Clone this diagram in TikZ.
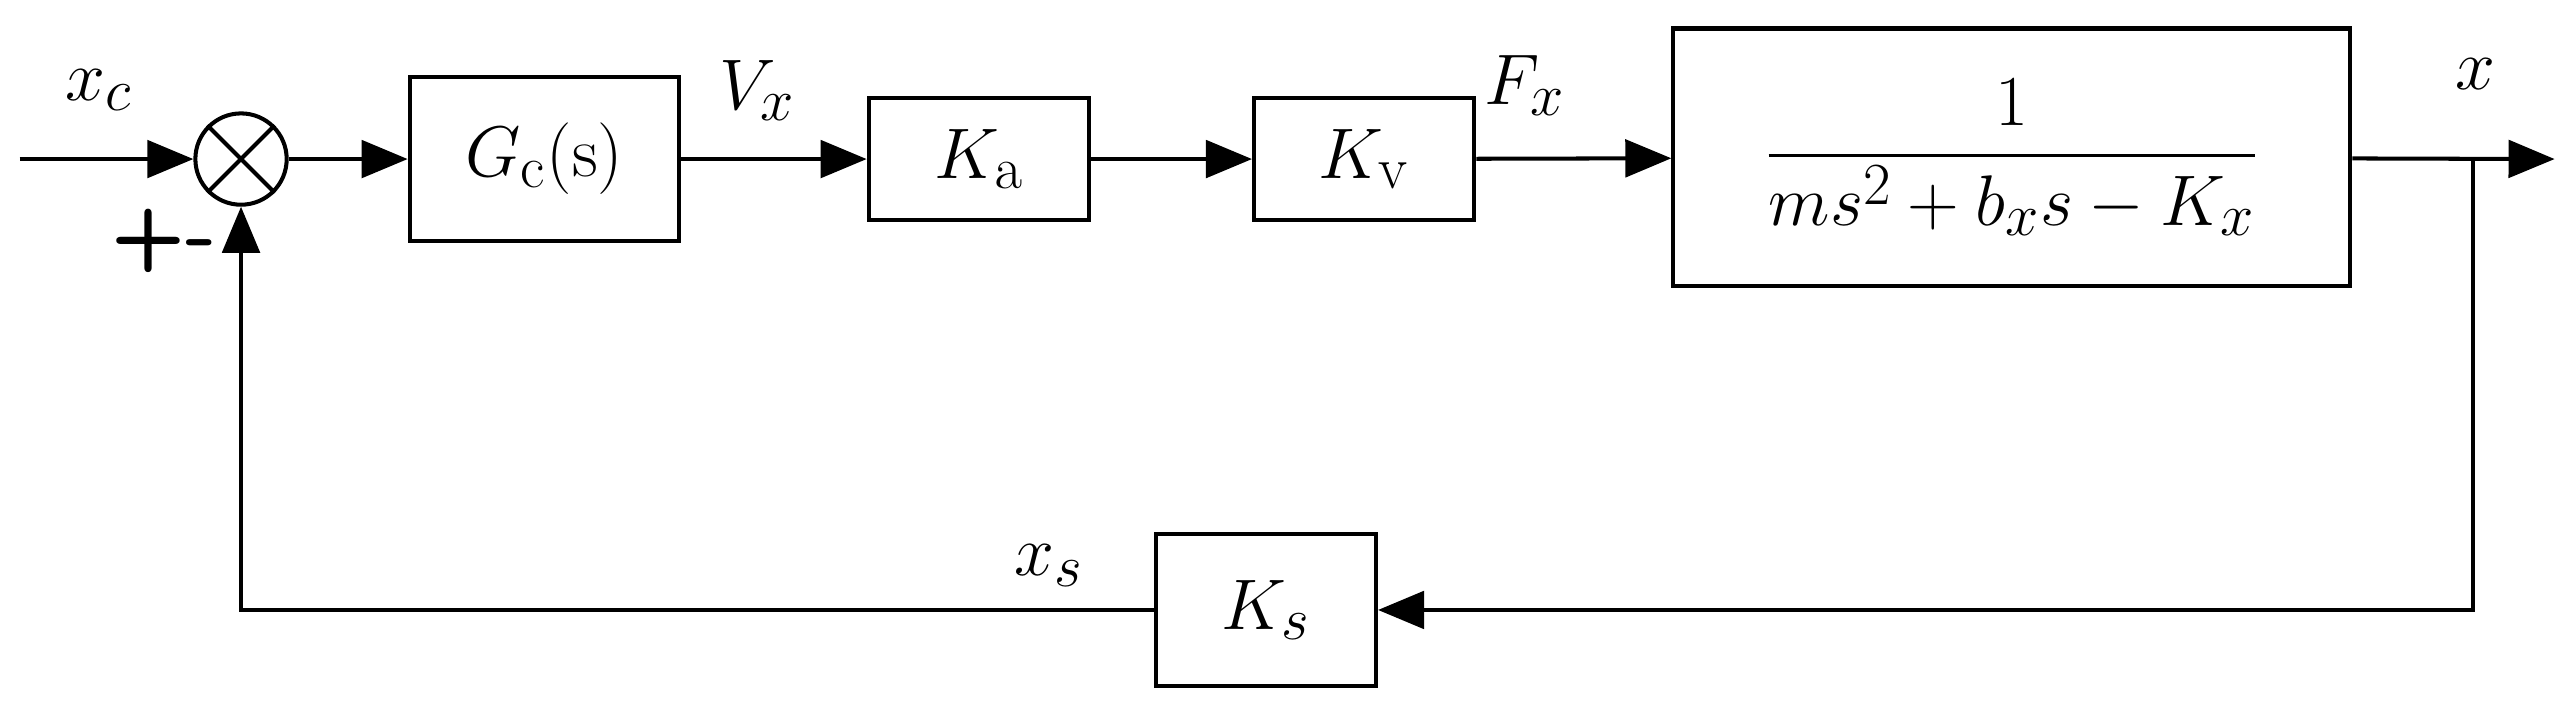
\documentclass[tikz,border=0pt]{standalone}
\usepackage{amsmath}
\usetikzlibrary{arrows.meta}
\begin{document}
\begin{tikzpicture}[x=0.02cm,y=-0.02cm,
  blk/.style={draw,line width=1.4pt,inner sep=0pt},
  con/.style={line width=1.4pt,-{Triangle[length=16pt,width=13pt]}},
  ln/.style={line width=1.4pt},
  every node/.style={font=\fontsize{30}{34}\selectfont}]
\useasboundingbox (0,0) rectangle (1568,438.5);
\coordinate (in) at (12,97);
\node[draw,circle,line width=1.4pt,minimum size=31.7pt,inner sep=0pt] (sum) at (147,97) {};
\draw[ln] (sum.north west) -- (sum.south east) (sum.north east) -- (sum.south west);
\node[blk,minimum width=93.5pt,minimum height=56.7pt] (gc) at (332,97) {$G_{\mathrm{c}}(\mathrm{s})$};
\node[blk,minimum width=76.5pt,minimum height=42.5pt] (ka) at (597,97) {$K_{\mathrm{a}}$};
\node[blk,minimum width=76.5pt,minimum height=42.5pt] (kv) at (832,97) {$K_{\mathrm{v}}$};
\node[blk,minimum width=235pt,minimum height=89.5pt] (g) at (1227,96) {$\dfrac{1}{ms^2+b_x s-K_x}$};
\node[blk,minimum width=76.5pt,minimum height=52.7pt] (ks) at (772,372) {$K_s$};
\coordinate (out) at (1558,97);
\coordinate (br) at (1508,97);
\coordinate (c1) at (1508,372);
\coordinate (c2) at (147,372);
\draw[con] (in) -- (sum);
\draw[con] (sum) -- (gc);
\draw[con] (gc) -- (ka);
\draw[con] (ka) -- (kv);
\draw[con] (kv) -- (g);
\draw[con] (g) -- (out);
\draw[con] (br) -- (c1) -- (ks);
\draw[con] (ks) -- (c2) -- (sum);
\node (xc) at (60,55) {$x_c$};
\node[font=\fontsize{30}{34}\bfseries\sffamily] (pm) at (100,147) {+-};
\node (vx) at (462,55) {$V_x$};
\node (fx) at (930,52) {$F_x$};
\node (xo) at (1510,45) {$x$};
\node (xs) at (640,345) {$x_s$};
\end{tikzpicture}
\end{document}
